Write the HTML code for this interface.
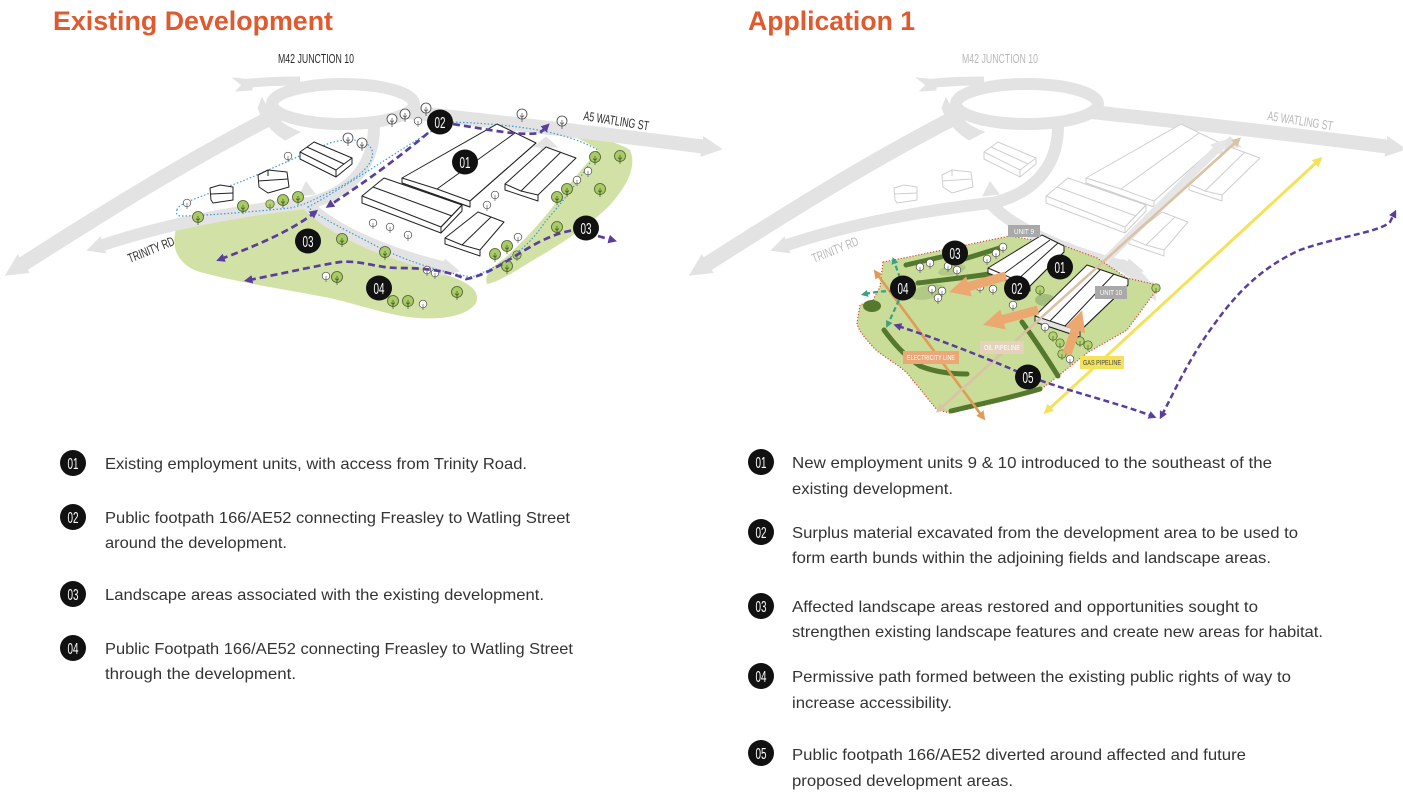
<!DOCTYPE html>
<html><head><meta charset="utf-8">
<style>
html,body{margin:0;padding:0;background:#fff;}
body{width:1403px;height:800px;overflow:hidden;}
svg{display:block;}
.lg{font-family:"Liberation Sans",sans-serif;font-size:16px;fill:#333;}
.bd{font-family:"Liberation Sans",sans-serif;font-size:16px;fill:#fff;text-anchor:middle;}
.hl{font-family:"Liberation Sans",sans-serif;font-size:13px;fill:#2a2a2a;}
.hr{font-family:"Liberation Sans",sans-serif;font-size:13px;fill:#b8b8b8;}
.tag{font-family:"Liberation Sans",sans-serif;font-size:7px;fill:#fff;text-anchor:middle;}
</style></head><body>
<svg width="1403" height="800" viewBox="0 0 1403 800" xmlns="http://www.w3.org/2000/svg">
<defs>
<marker id="mR" viewBox="0 0 10 10" refX="2" refY="5" markerWidth="1.5" markerHeight="1.6" orient="auto-start-reverse"><path d="M0,0 L10,5 L0,10 Z" fill="#e3e3e3"/></marker>
<marker id="mA" viewBox="0 0 10 10" refX="2" refY="5" markerWidth="2" markerHeight="2" orient="auto-start-reverse"><path d="M0,0 L10,5 L0,10 Z" fill="#e6e6e6"/></marker>
<marker id="mP" viewBox="0 0 10 10" refX="4" refY="5" markerWidth="3.2" markerHeight="3.2" orient="auto-start-reverse"><path d="M0,0 L10,5 L0,10 Z" fill="#5a3e9e"/></marker>
<marker id="mT" viewBox="0 0 10 10" refX="4" refY="5" markerWidth="3.2" markerHeight="3.2" orient="auto-start-reverse"><path d="M0,0 L10,5 L0,10 Z" fill="#3aa087"/></marker>
<marker id="mO" viewBox="0 0 10 10" refX="1" refY="5" markerWidth="2.3" markerHeight="2.3" orient="auto-start-reverse"><path d="M0,0 L10,5 L0,10 Z" fill="#eca871"/></marker>
<marker id="mE" viewBox="0 0 10 10" refX="4" refY="5" markerWidth="3.5" markerHeight="3.5" orient="auto-start-reverse"><path d="M0,0 L10,5 L0,10 Z" fill="#e29a58"/></marker>
<marker id="mL" viewBox="0 0 10 10" refX="4" refY="5" markerWidth="3.5" markerHeight="3.5" orient="auto-start-reverse"><path d="M0,0 L10,5 L0,10 Z" fill="#d9c2a5"/></marker>
<marker id="mG" viewBox="0 0 10 10" refX="4" refY="5" markerWidth="3.3" markerHeight="3.3" orient="auto-start-reverse"><path d="M0,0 L10,5 L0,10 Z" fill="#f3e25a"/></marker>

<g id="tw"><circle r="5" fill="#fff" stroke="#444" stroke-width="0.8"/><path d="M0,-1 V8 M-2,1.5 L0,3.5 L2,1.5" stroke="#444" stroke-width="0.7" fill="none"/></g>
<g id="tg"><circle r="5.5" fill="#a9cb63" stroke="#4a5a30" stroke-width="0.8"/><path d="M0,-1 V8 M-2,1.5 L0,3.5 L2,1.5" stroke="#3d4a28" stroke-width="0.7" fill="none"/></g>
<g id="ts"><circle r="3.8" fill="#fff" stroke="#444" stroke-width="0.7"/><path d="M0,0 V6" stroke="#444" stroke-width="0.6"/></g>
<g id="tsg"><circle r="4.2" fill="#b3d36e" stroke="#44552c" stroke-width="0.7"/><path d="M0,0 V6" stroke="#44552c" stroke-width="0.6"/></g>

<g id="roads" fill="none" stroke="#e3e3e3">
  <path d="M282,112 C190,158 95,218 20,266" stroke-width="15" marker-end="url(#mR)"/>
  <path d="M262,98 C268,110 278,124 300,132 L285,140 C272,132 262,120 258,108 Z" fill="#e3e3e3" stroke-width="1"/>
  <path d="M300,81 C275,81 258,82 242,84" stroke-width="9"/>
  <path d="M233,78 L252,80 L252,90 L236,91 L242,85 Z" fill="#e3e3e3" stroke-width="1"/>
  <ellipse cx="343" cy="104" rx="71" ry="20" stroke-width="12"/>
  <path d="M408,112 C480,120 600,133 706,147" stroke-width="14" marker-end="url(#mR)"/>
  <path d="M306,203 Q185,217 100,246" stroke-width="12" marker-end="url(#mR)"/>
  <path d="M304,204 C345,196 375,170 374,124" stroke-width="12"/>
  <path d="M308,205 C330,228 380,252 446,268" stroke-width="12" marker-end="url(#mR)"/>
  <path d="M534,147 L546,137 L557,147 L550,147 L550,151 L541,151 L541,147 Z" fill="#e3e3e3" stroke-width="1"/>
  <path d="M299,196 L306,182 L315,194 Z" fill="#e3e3e3" stroke-width="1"/>
</g>

<g id="bldg" stroke-width="1" stroke-linejoin="round">
  <polygon points="402,178 497,124 536,143 470,201 470,207 402,183" fill="#fff"/>
  <path d="M402,178 L437,189 L470,201 M437,189 L515,133 M402,183 L470,207 M470,201 L536,143" fill="none"/>
  <polygon points="362,196 384,178 462,205 441,227 441,233 362,203" fill="#fff"/>
  <path d="M373,187 L452,216 M441,227 L362,196 M441,227 L462,205 L462,211 L441,233" fill="none"/>
  <polygon points="505,184 546,147 576,158 538,195 538,201 505,190" fill="#fff"/>
  <path d="M505,184 L521,191 L538,195 M521,191 L561,152" fill="none"/>
  <polygon points="445,238 478,212 504,222 480,250 480,256 445,244" fill="#fff"/>
  <path d="M445,238 L462,245 L480,250 M462,245 L491,217" fill="none"/>
  <polygon points="300,152 314,142 352,158 352,164 336,177 300,159" fill="#fff"/>
  <path d="M300,152 L336,170 L352,158 M336,170 L336,177 M307,147 L344,164" fill="none"/>
  <polygon points="258,175 268,170 287,172 289,187 268,193 259,187" fill="#fff"/>
  <path d="M258,181 L288,179 M268,170 L268,176" fill="none"/>
  <polygon points="210,188 220,185 233,187 233,200 213,203 211,200" fill="#fff"/>
  <path d="M211,194 L233,193" fill="none"/>
</g>
</defs>

<!-- Titles -->
<text x="53" y="30" font-family="Liberation Sans, sans-serif" font-weight="bold" font-size="27" fill="#e1592f" textLength="280" lengthAdjust="spacingAndGlyphs">Existing Development</text>
<text x="748" y="30" font-family="Liberation Sans, sans-serif" font-weight="bold" font-size="27" fill="#e1592f" textLength="167" lengthAdjust="spacingAndGlyphs">Application 1</text>

<!-- LEFT DIAGRAM -->
<path d="M176,229 C210,219 260,212 305,209 C318,212 330,222 350,233 C380,250 420,265 455,278 C472,285 480,292 476,303 C468,315 445,320 418,318 C390,316 360,305 330,298 C290,290 240,283 200,272 C180,266 170,250 176,229 Z" fill="#d2e2a6"/>
<path d="M555,131 C580,133 615,140 630,150 C637,165 628,185 610,205 C590,225 560,245 530,262 C510,275 495,283 487,284 C484,276 490,268 505,258 C525,240 548,215 565,190 C580,170 595,155 598,150 C585,140 570,135 555,131 Z" fill="#d2e2a6"/>

<use href="#roads"/>

<g fill="none" stroke="#3d9bd6" stroke-width="1.2" stroke-dasharray="1.5 2">
  <path d="M177,210 C177,204 200,197 240,182 C270,170 300,155 330,143 C350,137 368,140 372,150 C376,165 355,180 330,192 C315,199 305,205 290,208 C250,212 200,216 180,216 C176,215 176,212 177,210 Z"/>
  <path d="M308,207 C340,190 400,150 428,133 L453,122 C500,124 560,128 598,150 C580,180 560,205 545,222 C530,245 510,262 472,277 C440,272 410,262 380,248 C350,232 320,218 308,207 Z"/>
</g>

<use href="#bldg" stroke="#222"/>

<!-- left trees -->
<use href="#tw" x="392" y="119"/><use href="#tw" x="405" y="114"/><use href="#ts" x="418" y="121"/><use href="#tw" x="426" y="108"/>
<use href="#tw" x="348" y="138"/><use href="#tw" x="362" y="143"/><use href="#ts" x="288" y="156"/><use href="#ts" x="187" y="203"/>
<use href="#ts" x="373" y="223"/><use href="#ts" x="390" y="227"/><use href="#ts" x="408" y="235"/>
<use href="#tw" x="522" y="114"/><use href="#tw" x="562" y="121"/><use href="#ts" x="495" y="195"/><use href="#ts" x="487" y="205"/>
<use href="#ts" x="427" y="270"/><use href="#ts" x="435" y="273"/><use href="#ts" x="423" y="304"/><use href="#ts" x="326" y="276"/>
<use href="#ts" x="518" y="237"/><use href="#ts" x="588" y="171"/><use href="#ts" x="577" y="180"/>
<use href="#tg" x="198" y="217"/><use href="#tg" x="243" y="206"/><use href="#tsg" x="270" y="204"/><use href="#tg" x="283" y="200"/><use href="#tg" x="298" y="197"/>
<use href="#tg" x="342" y="239"/><use href="#tg" x="385" y="252"/><use href="#tg" x="595" y="157"/><use href="#tg" x="620" y="156"/>
<use href="#tg" x="600" y="189"/><use href="#tg" x="567" y="189"/><use href="#tg" x="557" y="197"/><use href="#tg" x="557" y="227"/>
<use href="#tg" x="507" y="246"/><use href="#tg" x="495" y="254"/><use href="#tg" x="507" y="266"/><use href="#tg" x="457" y="292"/>
<use href="#tg" x="393" y="301"/><use href="#tg" x="408" y="301"/><use href="#tg" x="337" y="277"/><use href="#tsg" x="517" y="255"/>

<!-- left purple paths -->
<g fill="none" stroke="#5a3e9e" stroke-width="2.7" stroke-dasharray="7 4">
  <path d="M428,133 C390,165 350,192 330,205" marker-end="url(#mP)"/>
  <path d="M453,124 C490,130 520,136 540,133 L546,127" marker-end="url(#mP)"/>
  <path d="M221,259 C250,248 290,232 314,213" marker-start="url(#mP)" marker-end="url(#mP)"/>
  <path d="M249,280 C280,274 315,266 340,262 C362,260 375,268 400,268 C430,268 450,272 466,279 C485,276 505,262 525,250 C545,238 560,232 575,230" marker-start="url(#mP)"/>
  <path d="M598,236 L612,240" marker-end="url(#mP)"/>
</g>

<!-- left badges -->
<g>
  <ellipse cx="465" cy="162" rx="13" ry="12.5" fill="#111"/><text class="bd" x="465" y="168" textLength="11" lengthAdjust="spacingAndGlyphs">01</text>
  <ellipse cx="440" cy="122" rx="13" ry="12.5" fill="#111"/><text class="bd" x="440" y="128" textLength="11" lengthAdjust="spacingAndGlyphs">02</text>
  <ellipse cx="308" cy="241" rx="13" ry="12.5" fill="#111"/><text class="bd" x="308" y="247" textLength="11" lengthAdjust="spacingAndGlyphs">03</text>
  <ellipse cx="379" cy="288" rx="13" ry="12.5" fill="#111"/><text class="bd" x="379" y="294" textLength="11" lengthAdjust="spacingAndGlyphs">04</text>
  <ellipse cx="586" cy="228" rx="13" ry="12.5" fill="#111"/><text class="bd" x="586" y="234" textLength="11" lengthAdjust="spacingAndGlyphs">03</text>
</g>

<!-- left labels -->
<text class="hl" x="278" y="63" textLength="76" lengthAdjust="spacingAndGlyphs">M42 JUNCTION 10</text>
<text class="hl" x="583" y="120" transform="rotate(9 583 120)" textLength="66" lengthAdjust="spacingAndGlyphs">A5 WATLING ST</text>
<text class="hl" x="130" y="263" transform="rotate(-22 130 263)" textLength="49" lengthAdjust="spacingAndGlyphs">TRINITY RD</text>

<!-- RIGHT DIAGRAM -->
<use href="#roads" x="684"/>
<path d="M1120,264 C1135,272 1143,282 1148,289" fill="none" stroke="#e3e3e3" stroke-width="12" marker-end="url(#mR)"/>
<use href="#bldg" x="684" stroke="#cfcfcf"/>
<text class="hr" x="962" y="63" textLength="76" lengthAdjust="spacingAndGlyphs">M42 JUNCTION 10</text>
<text class="hr" x="1267" y="120" transform="rotate(9 1267 120)" textLength="66" lengthAdjust="spacingAndGlyphs">A5 WATLING ST</text>
<text class="hr" x="814" y="263" transform="rotate(-22 814 263)" textLength="49" lengthAdjust="spacingAndGlyphs">TRINITY RD</text>

<!-- access road -->
<path d="M1100,266 L1218,148" fill="none" stroke="#e6e6e6" stroke-width="8" marker-end="url(#mA)"/>

<!-- site green -->
<path d="M883,262 C920,255 970,244 1010,236 L1062,245 L1097,258 L1127,278 L1157,285 L1155,292 L1127,330 L1087,353 L1053,380 L1040,390 L1007,400 L950,413 L937,410 C925,395 915,383 907,373 C895,362 880,355 873,347 C865,338 858,330 857,323 L860,305 L873,300 L880,287 Z" fill="#c9dc98"/>
<ellipse cx="928" cy="292" rx="18" ry="7" fill="#b2c985" transform="rotate(-12 928 292)"/>
<ellipse cx="952" cy="270" rx="14" ry="5" fill="#b2c985" transform="rotate(-12 952 270)"/>
<ellipse cx="1045" cy="300" rx="10" ry="6" fill="#a4bd7a"/>
<path d="M883,262 C920,255 970,244 1010,236 L1062,245 L1097,258 L1127,278 L1157,285 L1155,292 L1127,330 L1087,353 L1053,380 L1040,390 L1007,400 L950,413 L937,410 C925,395 915,383 907,373 C895,362 880,355 873,347 C865,338 858,330 857,323 L860,305 L873,300 L880,287 Z" fill="none" stroke="#d9463c" stroke-width="1.2" stroke-dasharray="1.2 1.8"/>

<!-- hedges -->
<g fill="none" stroke="#55782f" stroke-width="5" stroke-linecap="round">
  <path d="M906,265 L941,257"/>
  <path d="M964,259 L1003,247"/>
  <path d="M918,283 C950,279 980,276 1002,272"/>
  <path d="M884,330 C895,345 905,356 920,366 C935,372 950,374 967,374"/>
  <path d="M1022,322 C1035,340 1045,355 1058,376"/>
  <path d="M951,411 C975,405 1010,398 1040,389"/>
</g>
<ellipse cx="872" cy="306" rx="9" ry="6" fill="#55782f"/>

<!-- new units -->
<g stroke="#222" stroke-width="1" stroke-linejoin="round" fill="none">
  <polygon points="988,268 1042,235 1064,246 1064,252 1030,286 1030,291 988,273" fill="#fff"/>
  <path d="M988,268 L1030,286 M1002,275 L1050,240 M1016,281 L1058,243 M1030,286 L1064,252"/>
  <polygon points="1035,316 1087,265 1128,279 1128,285 1080,331 1080,337 1035,322" fill="#fff"/>
  <polygon points="1035,316 1080,331 1080,337 1035,322" fill="#e4e4e4"/>
  <path d="M1050,321 L1100,270 M1065,326 L1114,274 M1080,331 L1128,285"/>
</g>
<rect x="1008" y="225" width="32" height="12" fill="#a9a9a9"/><text class="tag" x="1024" y="234" textLength="20" lengthAdjust="spacingAndGlyphs">UNIT 9</text>
<rect x="1095" y="286" width="32" height="13" fill="#a9a9a9"/><text class="tag" x="1111" y="295" textLength="22" lengthAdjust="spacingAndGlyphs">UNIT 10</text>

<!-- right trees -->
<use href="#ts" x="920" y="267"/><use href="#ts" x="930" y="263"/><use href="#ts" x="948" y="266"/><use href="#ts" x="957" y="270"/>
<use href="#ts" x="987" y="259"/><use href="#ts" x="996" y="253"/><use href="#ts" x="1003" y="247"/>
<use href="#ts" x="932" y="289"/><use href="#ts" x="942" y="291"/><use href="#ts" x="938" y="298"/><use href="#ts" x="980" y="287"/><use href="#ts" x="993" y="289"/>
<use href="#ts" x="1013" y="305"/><use href="#tsg" x="1040" y="290"/><use href="#ts" x="1045" y="327"/><use href="#tsg" x="1053" y="336"/>
<use href="#tsg" x="1060" y="343"/><use href="#tsg" x="1080" y="341"/><use href="#tsg" x="1088" y="345"/><use href="#tsg" x="1062" y="354"/><use href="#ts" x="1070" y="359"/>
<use href="#tsg" x="1156" y="288"/>

<!-- pipelines -->
<path d="M877,274 L982,416" fill="none" stroke="#e29a58" stroke-width="2.6" marker-start="url(#mE)" marker-end="url(#mE)"/>
<path d="M1237,141 L940,409" fill="none" stroke="#d9c2a5" stroke-width="2.6" marker-start="url(#mL)" marker-end="url(#mL)"/>
<path d="M1318,161 L1048,410" fill="none" stroke="#f3e25a" stroke-width="3" marker-start="url(#mG)" marker-end="url(#mG)"/>

<!-- orange chunky arrows -->
<g fill="none" stroke="#eca871" stroke-width="9">
  <path d="M1006,276 L967,287" marker-end="url(#mO)"/>
  <path d="M1038,310 L1001,320" marker-end="url(#mO)"/>
  <path d="M1067,354 L1076,328" marker-end="url(#mO)"/>
</g>

<!-- tags -->
<rect x="903" y="351" width="56" height="13" fill="#eba876"/><text class="tag" x="931" y="360" textLength="48" lengthAdjust="spacingAndGlyphs">ELECTRICITY LINE</text>
<rect x="980" y="341" width="44" height="13" fill="#e4d2bd"/><text class="tag" x="1002" y="350" textLength="36" lengthAdjust="spacingAndGlyphs">OIL PIPELINE</text>
<rect x="1080" y="356" width="44" height="13" fill="#f3e25a"/><text class="tag" x="1102" y="365" style="fill:#444" textLength="38" lengthAdjust="spacingAndGlyphs">GAS PIPELINE</text>

<!-- purple path 05 -->
<g fill="none" stroke="#5a3e9e" stroke-width="2.5" stroke-dasharray="6 3.5">
  <path d="M898,326 C950,343 995,362 1028,376 C1070,392 1115,402 1152,416" marker-start="url(#mP)" marker-end="url(#mP)"/>
  <path d="M1162,415 C1175,390 1190,357 1213,326 C1235,295 1260,268 1300,250 C1340,236 1380,232 1390,222 L1394,214" marker-start="url(#mP)" marker-end="url(#mP)"/>
</g>
<!-- teal -->
<g fill="none" stroke="#3aa087" stroke-width="2.2" stroke-dasharray="5 3">
  <path d="M900,278 L894,261" marker-end="url(#mT)"/>
  <path d="M894,291 C884,291 874,292 865,294" marker-end="url(#mT)"/>
  <path d="M899,300 L888,324" marker-end="url(#mT)"/>
</g>

<!-- right badges -->
<g>
  <ellipse cx="955" cy="253" rx="13" ry="12.5" fill="#111"/><text class="bd" x="955" y="259" textLength="11" lengthAdjust="spacingAndGlyphs">03</text>
  <ellipse cx="1060" cy="267" rx="13" ry="12.5" fill="#111"/><text class="bd" x="1060" y="273" textLength="11" lengthAdjust="spacingAndGlyphs">01</text>
  <ellipse cx="903" cy="288" rx="13" ry="12.5" fill="#111"/><text class="bd" x="903" y="294" textLength="11" lengthAdjust="spacingAndGlyphs">04</text>
  <ellipse cx="1017" cy="288" rx="13" ry="12.5" fill="#111"/><text class="bd" x="1017" y="294" textLength="11" lengthAdjust="spacingAndGlyphs">02</text>
  <ellipse cx="1028" cy="377" rx="13" ry="12.5" fill="#111"/><text class="bd" x="1028" y="383" textLength="11" lengthAdjust="spacingAndGlyphs">05</text>
</g>

<!-- LEGEND LEFT -->
<g>
  <ellipse cx="73" cy="463" rx="13" ry="13" fill="#111"/><text class="bd" x="73" y="469" textLength="11" lengthAdjust="spacingAndGlyphs">01</text>
  <text class="lg" x="105" y="469" textLength="422" lengthAdjust="spacingAndGlyphs">Existing employment units, with access from Trinity Road.</text>
  <ellipse cx="73" cy="517" rx="13" ry="13" fill="#111"/><text class="bd" x="73" y="523" textLength="11" lengthAdjust="spacingAndGlyphs">02</text>
  <text class="lg" x="105" y="523" textLength="465" lengthAdjust="spacingAndGlyphs">Public footpath 166/AE52 connecting Freasley to Watling Street</text>
  <text class="lg" x="105" y="548" textLength="182" lengthAdjust="spacingAndGlyphs">around the development.</text>
  <ellipse cx="73" cy="594" rx="13" ry="13" fill="#111"/><text class="bd" x="73" y="600" textLength="11" lengthAdjust="spacingAndGlyphs">03</text>
  <text class="lg" x="105" y="600" textLength="439" lengthAdjust="spacingAndGlyphs">Landscape areas associated with the existing development.</text>
  <ellipse cx="73" cy="648" rx="13" ry="13" fill="#111"/><text class="bd" x="73" y="654" textLength="11" lengthAdjust="spacingAndGlyphs">04</text>
  <text class="lg" x="105" y="654" textLength="468" lengthAdjust="spacingAndGlyphs">Public Footpath 166/AE52 connecting Freasley to Watling Street</text>
  <text class="lg" x="105" y="679" textLength="191" lengthAdjust="spacingAndGlyphs">through the development.</text>
</g>
<!-- LEGEND RIGHT -->
<g>
  <ellipse cx="761" cy="462" rx="13" ry="13" fill="#111"/><text class="bd" x="761" y="468" textLength="11" lengthAdjust="spacingAndGlyphs">01</text>
  <text class="lg" x="792" y="468" textLength="480" lengthAdjust="spacingAndGlyphs">New employment units 9 &amp; 10 introduced to the southeast of the</text>
  <text class="lg" x="792" y="494" textLength="161" lengthAdjust="spacingAndGlyphs">existing development.</text>
  <ellipse cx="761" cy="532" rx="13" ry="13" fill="#111"/><text class="bd" x="761" y="538" textLength="11" lengthAdjust="spacingAndGlyphs">02</text>
  <text class="lg" x="792" y="538" textLength="506" lengthAdjust="spacingAndGlyphs">Surplus material excavated from the development area to be used to</text>
  <text class="lg" x="792" y="563" textLength="479" lengthAdjust="spacingAndGlyphs">form earth bunds within the adjoining fields and landscape areas.</text>
  <ellipse cx="761" cy="606" rx="13" ry="13" fill="#111"/><text class="bd" x="761" y="612" textLength="11" lengthAdjust="spacingAndGlyphs">03</text>
  <text class="lg" x="792" y="612" textLength="466" lengthAdjust="spacingAndGlyphs">Affected landscape areas restored and opportunities sought to</text>
  <text class="lg" x="792" y="637" textLength="531" lengthAdjust="spacingAndGlyphs">strengthen existing landscape features and create new areas for habitat.</text>
  <ellipse cx="761" cy="676" rx="13" ry="13" fill="#111"/><text class="bd" x="761" y="682" textLength="11" lengthAdjust="spacingAndGlyphs">04</text>
  <text class="lg" x="792" y="682" textLength="499" lengthAdjust="spacingAndGlyphs">Permissive path formed between the existing public rights of way to</text>
  <text class="lg" x="792" y="708" textLength="160" lengthAdjust="spacingAndGlyphs">increase accessibility.</text>
  <ellipse cx="761" cy="753" rx="13" ry="13" fill="#111"/><text class="bd" x="761" y="759" textLength="11" lengthAdjust="spacingAndGlyphs">05</text>
  <text class="lg" x="792" y="760" textLength="454" lengthAdjust="spacingAndGlyphs">Public footpath 166/AE52 diverted around affected and future</text>
  <text class="lg" x="792" y="786" textLength="221" lengthAdjust="spacingAndGlyphs">proposed development areas.</text>
</g>
</svg>
</body></html>
